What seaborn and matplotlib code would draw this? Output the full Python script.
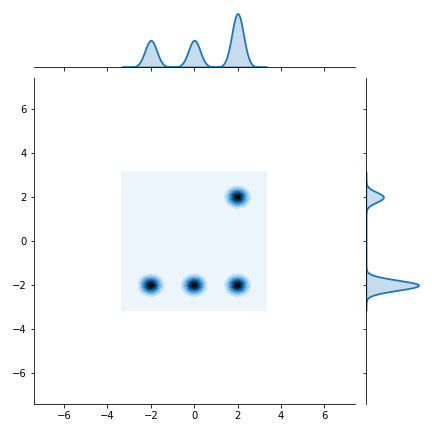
import numpy as np
import matplotlib
matplotlib.use("Agg")
import matplotlib.pyplot as plt
import seaborn as sns
from seaborn.utils import set_hls_values

# cluster centres, equal share of points in each
cx = [-2, 0, 2, 2]
cy = [-2, -2, -2, 2]
w = [1, 1, 1, 1]

bw_x, bw_y = 0.27, 0.23
cut = 5
color = "#1f77b4"

g = sns.JointGrid(height=6, ratio=5, space=0.2)

# product gaussian kernel, like the old statsmodels based kdeplot
gx = np.linspace(min(cx) - cut * bw_x, max(cx) + cut * bw_x, 200)
gy = np.linspace(min(cy) - cut * bw_y, max(cy) + cut * bw_y, 200)
xx, yy = np.meshgrid(gx, gy)
z = np.zeros_like(xx)
for x0, y0, wi in zip(cx, cy, w):
    z += wi * np.exp(-0.5 * (((xx - x0) / bw_x) ** 2 + ((yy - y0) / bw_y) ** 2))
z /= 2 * np.pi * bw_x * bw_y * sum(w)

colors = [set_hls_values(color, l=l) for l in np.linspace(1, 0, 12)]
cmap = sns.blend_palette(colors, as_cmap=True)
g.ax_joint.contourf(xx, yy, z, 10, cmap=cmap)

sns.kdeplot(x=cx, weights=w, bw_method=bw_x / np.std(cx, ddof=1), cut=cut,
            fill=True, color=color, linewidth=1.8, ax=g.ax_marg_x)
sns.kdeplot(y=cy, weights=w, bw_method=bw_y / np.std(cy, ddof=1), cut=cut,
            fill=True, color=color, linewidth=1.8, ax=g.ax_marg_y)
g.ax_marg_x.set_ylabel("")
g.ax_marg_y.set_xlabel("")

g.ax_joint.set_xlim(-7.4, 7.4)
g.ax_joint.set_ylim(-7.4, 7.4)
g.ax_joint.set_xticks(range(-6, 7, 2))
g.ax_joint.set_yticks(range(-6, 7, 2))

g.figure.savefig("out.png", dpi=72)
